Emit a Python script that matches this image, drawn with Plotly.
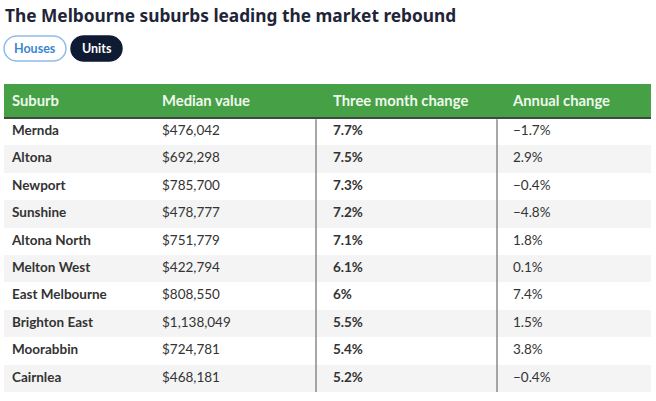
import math
import plotly.graph_objects as go

W, H = 656, 401

title_text = "The Melbourne suburbs leading the market rebound"
toggle_labels = ["Houses", "Units"]

header_labels = ["Suburb", "Median value", "Three month change", "Annual change"]
suburbs = ["Mernda", "Altona", "Newport", "Sunshine", "Altona North", "Melton West",
           "East Melbourne", "Brighton East", "Moorabbin", "Cairnlea"]
median_value = ["$476,042", "$692,298", "$785,700", "$478,777", "$751,779", "$422,794",
                "$808,550", "$1,138,049", "$724,781", "$468,181"]
three_month = ["7.7%", "7.5%", "7.3%", "7.2%", "7.1%", "6.1%", "6%", "5.5%", "5.4%", "5.2%"]
annual = ["\u22121.7%", "2.9%", "\u22120.4%", "\u22124.8%", "1.8%", "0.1%", "7.4%", "1.5%", "3.8%", "\u22120.4%"]

GREEN = "#46a046"
NAVY = "#0f1a33"
TEXT = "#333333"
ALT = "#f4f4f4"

# layout geometry (pixels)
TBL_L, TBL_R = 4, 651
HDR_TOP, ROWS_TOP, ROWS_BOT = 84, 118, 392
col_x = [12, 162, 333, 513]          # text start of each column
sep_x = [316, 497]                   # vertical separators
bold_cols = [True, False, True, False]

n = len(suburbs)
row_px = (ROWS_BOT - ROWS_TOP) / n
hdr_units = (ROWS_TOP - HDR_TOP) / row_px
hdr_center = -0.5 - hdr_units / 2
rows = list(range(n))

def px(x):
    return x / W

def py(y):
    return 1 - y / H

def b(s):
    return "<b>%s</b>" % s

fig = go.Figure()

# alternating row backgrounds
fig.add_trace(go.Bar(
    y=rows, x=[TBL_R - TBL_L] * n, base=0, orientation="h", width=1,
    marker=dict(color=["white" if i % 2 == 0 else ALT for i in rows], line=dict(width=0)),
    hoverinfo="skip", showlegend=False,
))
# header background
fig.add_trace(go.Bar(
    y=[hdr_center], x=[TBL_R - TBL_L], base=0, orientation="h", width=hdr_units,
    marker=dict(color=GREEN, line=dict(width=0)),
    hoverinfo="skip", showlegend=False,
))

columns = [suburbs, median_value, three_month, annual]
for ci, (vals, hdr) in enumerate(zip(columns, header_labels)):
    xs = col_x[ci] - TBL_L
    fig.add_trace(go.Scatter(
        x=[xs] * n, y=rows, mode="text",
        text=[b(v) if bold_cols[ci] else v for v in vals],
        textposition="middle right",
        textfont=dict(family="Lato", size=13.5, color=TEXT),
        hoverinfo="skip", showlegend=False,
    ))
    fig.add_trace(go.Scatter(
        x=[xs], y=[hdr_center + 0.03], mode="text", text=[b(hdr)],
        textposition="middle right",
        textfont=dict(family="Lato", size=14.8, color="#eef8ec"),
        hoverinfo="skip", showlegend=False,
    ))

shapes = []
# dark line under header
shapes.append(dict(type="line", xref="x", yref="y", x0=0, x1=TBL_R - TBL_L,
                   y0=-0.5, y1=-0.5, line=dict(color="#3d4a3d", width=2), layer="above"))
for sx in sep_x:
    shapes.append(dict(type="line", xref="x", yref="y", x0=sx - TBL_L, x1=sx - TBL_L,
                       y0=-0.45, y1=n - 0.45, line=dict(color="#8a8a8a", width=1.5),
                       layer="above"))

def pill(x0, x1, y0, y1, fill, line):
    r = (y1 - y0) / 2
    cy = (y0 + y1) / 2
    pts = []
    for k in range(13):
        a = math.pi / 2 + math.pi * k / 12
        pts.append((x0 + r + r * math.cos(a), cy - r * math.sin(a)))
    for k in range(13):
        a = -math.pi / 2 + math.pi * k / 12
        pts.append((x1 - r + r * math.cos(a), cy - r * math.sin(a)))
    path = "M " + " L ".join("%.5f,%.5f" % (px(a), py(c)) for a, c in pts) + " Z"
    return dict(type="path", xref="paper", yref="paper", path=path,
                fillcolor=fill, line=dict(color=line, width=1.5))

shapes.append(pill(4, 66, 36, 61, "white", "#8fbde8"))
shapes.append(pill(71, 122, 36, 61, NAVY, NAVY))

annotations = [
    dict(text=b(title_text), x=px(4), y=py(15), xref="paper", yref="paper",
         xanchor="left", yanchor="middle", showarrow=False, borderpad=0,
         font=dict(family="Noto Sans", size=17.3, color="#1f2538")),
    dict(text=b(toggle_labels[0]), x=px(35), y=py(48.5), xref="paper", yref="paper",
         xanchor="center", yanchor="middle", showarrow=False,
         font=dict(family="Lato", size=12.5, color="#3a87d0")),
    dict(text=b(toggle_labels[1]), x=px(96.5), y=py(48.5), xref="paper", yref="paper",
         xanchor="center", yanchor="middle", showarrow=False,
         font=dict(family="Lato", size=12.5, color="white")),
]

fig.update_layout(
    width=W, height=H,
    margin=dict(l=0, r=0, t=0, b=0),
    paper_bgcolor="white",
    plot_bgcolor="white",
    barmode="overlay",
    bargap=0,
    xaxis=dict(domain=[px(TBL_L), px(TBL_R)], range=[0, TBL_R - TBL_L],
               visible=False, fixedrange=True),
    yaxis=dict(domain=[1 - ROWS_BOT / H, 1 - HDR_TOP / H],
               range=[n - 0.5, -0.5 - hdr_units], visible=False, fixedrange=True),
    shapes=shapes,
    annotations=annotations,
)

fig.write_html("out.html", config={"displayModeBar": False},
               post_script="document.body.style.margin='0px';document.body.style.overflow='hidden';")
